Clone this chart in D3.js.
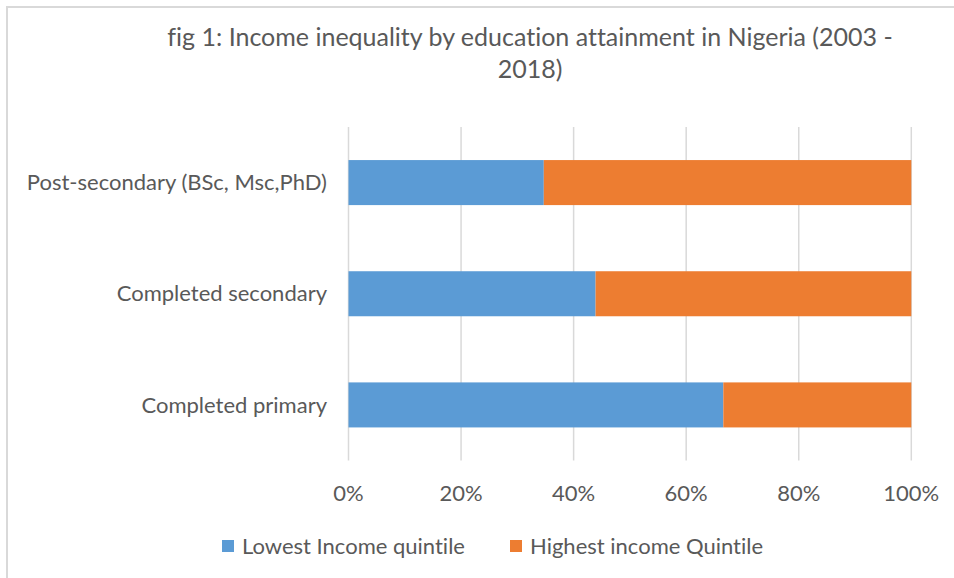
<!DOCTYPE html>
<html>
<head>
    <meta charset="utf-8">
    <style>
        body {
            margin: 0;
            background: white;
            font-family: Lato, 'Open Sans', sans-serif;
            font-variant-ligatures: none;
        }
        svg {
            display: block;
        }
    </style>
</head>
<body>
    <svg width="954" height="578"></svg>

<script src="https://d3js.org/d3.v7.min.js"></script>
<script>
    // data
    let categories = ["Post-secondary (BSc, Msc,PhD)", "Completed secondary", "Completed primary"]
    let lowest = [34.7, 43.9, 66.6]
    let highest = [65.3, 56.1, 33.4]
    let seriesNames = ["Lowest Income quintile", "Highest income Quintile"]
    let seriesColors = ["#5B9BD5", "#ED7D31"]
    let ticks = [0, 20, 40, 60, 80, 100]

    let svg = d3.select("svg")
    let textColor = "#595959"

    // chart frame (only top/left visible in the picture)
    svg.append("rect")
        .attr("x", 7).attr("y", 7)
        .attr("width", 960).attr("height", 590)
        .style("fill", "white")
        .style("stroke", "#d9d9d9")
        .style("stroke-width", 2)

    // title
    let title = svg.append("text")
        .attr("x", 530)
        .attr("text-anchor", "middle")
        .style("fill", textColor)
        .style("font-size", "25px")
    title.append("tspan").attr("x", 530).attr("y", 46)
        .text("fig 1: Income inequality by education attainment in Nigeria (2003 -")
    title.append("tspan").attr("x", 530).attr("y", 78)
        .text("2018)")

    let x = d3.scaleLinear()
        .domain([0, 100])
        .range([348.5, 911.3])

    let y = d3.scaleBand()
        .domain(categories)
        .range([127, 460.5])
        .paddingInner(0.595)
        .paddingOuter(0.2975)

    // gridlines
    svg.append("g")
        .selectAll("line")
        .data(ticks)
        .join("line")
        .attr("x1", d => x(d))
        .attr("x2", d => x(d))
        .attr("y1", 127)
        .attr("y2", 460.5)
        .style("stroke", "#d9d9d9")
        .style("stroke-width", 1.5)

    // stacked bars
    let rows = categories.map((c, i) => ({ cat: c, lowest: lowest[i], highest: highest[i] }))
    let stack = d3.stack().keys(["lowest", "highest"])(rows)

    svg.append("g")
        .selectAll("g")
        .data(stack)
        .join("g")
        .style("fill", (d, i) => seriesColors[i])
        .selectAll("rect")
        .data(d => d)
        .join("rect")
        .attr("x", d => x(d[0]))
        .attr("width", d => x(d[1]) - x(d[0]))
        .attr("y", d => y(d.data.cat))
        .attr("height", y.bandwidth())

    // x tick labels
    svg.append("g")
        .selectAll("text")
        .data(ticks)
        .join("text")
        .attr("x", d => x(d))
        .attr("y", 501)
        .attr("text-anchor", "middle")
        .style("fill", textColor)
        .style("font-size", "22px")
        .text(d => d + "%")

    // category labels
    svg.append("g")
        .selectAll("text")
        .data(categories)
        .join("text")
        .attr("x", 327)
        .attr("y", d => y(d) + y.bandwidth() / 2)
        .attr("dy", "0.35em")
        .attr("text-anchor", "end")
        .style("fill", textColor)
        .style("font-size", "22px")
        .text(d => d)

    // legend
    let legendX = [222, 510]
    let legend = svg.append("g")
        .selectAll("g")
        .data(seriesNames)
        .join("g")
        .attr("transform", (d, i) => "translate(" + legendX[i] + ",540)")
    legend.append("rect")
        .attr("width", 12).attr("height", 12)
        .style("fill", (d, i) => seriesColors[i])
    legend.append("text")
        .attr("x", 20)
        .attr("y", 6)
        .attr("dy", "0.35em")
        .style("fill", textColor)
        .style("font-size", "22px")
        .text(d => d)
</script>
</body>
</html>
